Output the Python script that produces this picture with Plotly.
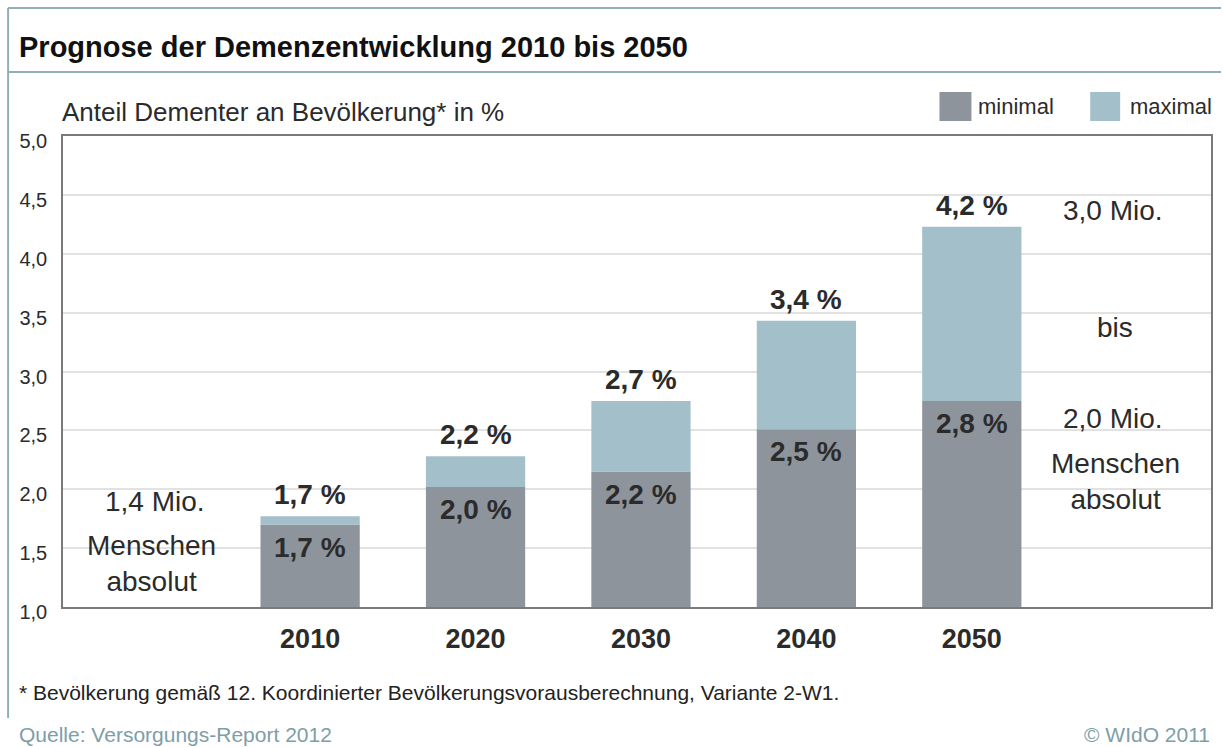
import plotly.graph_objects as go

# ---- data ----
years = ["2010", "2020", "2030", "2040", "2050"]
minimal = [1.70, 2.02, 2.15, 2.51, 2.75]
maximal = [1.77, 2.28, 2.75, 3.43, 4.23]
label_min = ["1,7 %", "2,0 %", "2,2 %", "2,5 %", "2,8 %"]
label_max = ["1,7 %", "2,2 %", "2,7 %", "3,4 %", "4,2 %"]
y_ticks = [1.0, 1.5, 2.0, 2.5, 3.0, 3.5, 4.0, 4.5, 5.0]

W, H = 1223, 747
L, R, T, B = 63, 10, 136, 140
PW, PH = W - L - R, H - T - B

def px(x):
    return (x - L) / PW

def py(y):
    return (H - B - y) / PH

FONT = "Liberation Sans, Arial, sans-serif"
C_MIN = "#8e949b"
C_MAX = "#a3bfc9"
TXT = "#2b2b2b"
FRAME = "#8fb0b8"

diff = [mx - mn for mx, mn in zip(maximal, minimal)]

fig = go.Figure()
fig.add_trace(go.Bar(x=years, y=minimal, name="minimal", marker_color=C_MIN,
                     marker_line_width=0, width=0.6))
fig.add_trace(go.Bar(x=years, y=diff, base=minimal, name="maximal", marker_color=C_MAX,
                     marker_line_width=0, width=0.6))

annotations = []
for i, (mn, mx, lmn, lmx) in enumerate(zip(minimal, maximal, label_min, label_max)):
    annotations.append(dict(x=i, y=mx, text="<b>" + lmx + "</b>", showarrow=False,
                            xref="x", yref="y", yanchor="bottom", yshift=4,
                            font=dict(family=FONT, size=28, color=TXT)))
    annotations.append(dict(x=i, y=mn, text="<b>" + lmn + "</b>", showarrow=False,
                            xref="x", yref="y", yanchor="top", yshift=-5,
                            font=dict(family=FONT, size=28, color=TXT)))

side_font = dict(family=FONT, size=28, color=TXT)
side = [
    (-0.94, 1.90, "1,4 Mio."),
    (-0.96, 1.37, "Menschen<br>absolut"),
    (4.855, 4.37, "3,0 Mio."),
    (4.865, 3.37, "bis"),
    (4.855, 2.60, "2,0 Mio."),
    (4.87, 2.065, "Menschen<br>absolut"),
]
for sx, sy, st in side:
    annotations.append(dict(x=sx, y=sy, text=st, showarrow=False, xref="x", yref="y",
                            xanchor="center", yanchor="middle", font=side_font))

# axis caption
annotations.append(dict(x=px(60), y=py(112), xref="paper", yref="paper",
                        text="Anteil Dementer an Bevölkerung* in %", showarrow=False,
                        xanchor="left", yanchor="middle",
                        font=dict(family=FONT, size=26, color=TXT)))
# legend texts
annotations.append(dict(x=px(978), y=py(106), xref="paper", yref="paper", text="minimal",
                        showarrow=False, xanchor="left", yanchor="middle",
                        font=dict(family=FONT, size=22, color=TXT)))
annotations.append(dict(x=px(1130), y=py(106), xref="paper", yref="paper", text="maximal",
                        showarrow=False, xanchor="left", yanchor="middle",
                        font=dict(family=FONT, size=22, color=TXT)))
# footnote & source
annotations.append(dict(x=px(17), y=py(692), xref="paper", yref="paper",
                        text="* Bevölkerung gemäß 12. Koordinierter Bevölkerungsvorausberechnung, Variante 2-W1.",
                        showarrow=False, xanchor="left", yanchor="middle",
                        font=dict(family=FONT, size=21, color="#222222")))
annotations.append(dict(x=px(17), y=py(734), xref="paper", yref="paper",
                        text="Quelle: Versorgungs-Report 2012",
                        showarrow=False, xanchor="left", yanchor="middle",
                        font=dict(family=FONT, size=21, color="#7d9ea7")))
annotations.append(dict(x=px(1214), y=py(734), xref="paper", yref="paper",
                        text="© WIdO 2011",
                        showarrow=False, xanchor="right", yanchor="middle",
                        font=dict(family=FONT, size=21, color="#7d9ea7")))

shapes = [
    # legend squares
    dict(type="rect", xref="paper", yref="paper", x0=px(941), x1=px(973), y0=py(121), y1=py(92),
         fillcolor=C_MIN, line_width=0),
    dict(type="rect", xref="paper", yref="paper", x0=px(1092), x1=px(1122), y0=py(121), y1=py(92),
         fillcolor=C_MAX, line_width=0),
    # outer frame
    dict(type="line", xref="paper", yref="paper", x0=px(8), x1=px(1223), y0=py(8), y1=py(8),
         line=dict(color=FRAME, width=2)),
    dict(type="line", xref="paper", yref="paper", x0=px(8), x1=px(1223), y0=py(72), y1=py(72),
         line=dict(color=FRAME, width=2)),
    dict(type="line", xref="paper", yref="paper", x0=px(8), x1=px(8), y0=py(8), y1=py(718),
         line=dict(color=FRAME, width=2)),
]

fig.update_layout(
    width=W, height=H,
    margin=dict(l=L, r=R, t=T, b=B),
    paper_bgcolor="white", plot_bgcolor="white",
    barmode="overlay",
    showlegend=False,
    separators=",.",
    title=dict(text="<b>Prognose der Demenzentwicklung 2010 bis 2050</b>",
               x=19 / W, y=1 - 47 / H, xref="container", yref="container",
               xanchor="left", yanchor="middle",
               font=dict(family=FONT, size=29, color="#111111")),
    annotations=annotations,
    shapes=shapes,
)
fig.update_xaxes(type="category", range=[-1.494, 5.446], showgrid=False,
                 showline=True, mirror=True, linecolor="#7a7a7a", linewidth=1.5,
                 ticks="", ticklabelstandoff=7,
                 tickfont=dict(family=FONT, size=27, color=TXT, weight="bold"))
fig.update_yaxes(range=[1.0, 5.0], tickvals=y_ticks, tickformat=".1f",
                 showgrid=True, gridcolor="#e2e2e2", gridwidth=1.5,
                 showline=True, mirror=True, linecolor="#7a7a7a", linewidth=1.5,
                 zeroline=False, ticks="", ticklabelstandoff=10, ticklabelshift=5,
                 tickfont=dict(family=FONT, size=20, color=TXT))

fig.write_html("out.html", config={"displayModeBar": False},
               post_script="document.body.style.margin='0';document.body.style.overflow='hidden';")
